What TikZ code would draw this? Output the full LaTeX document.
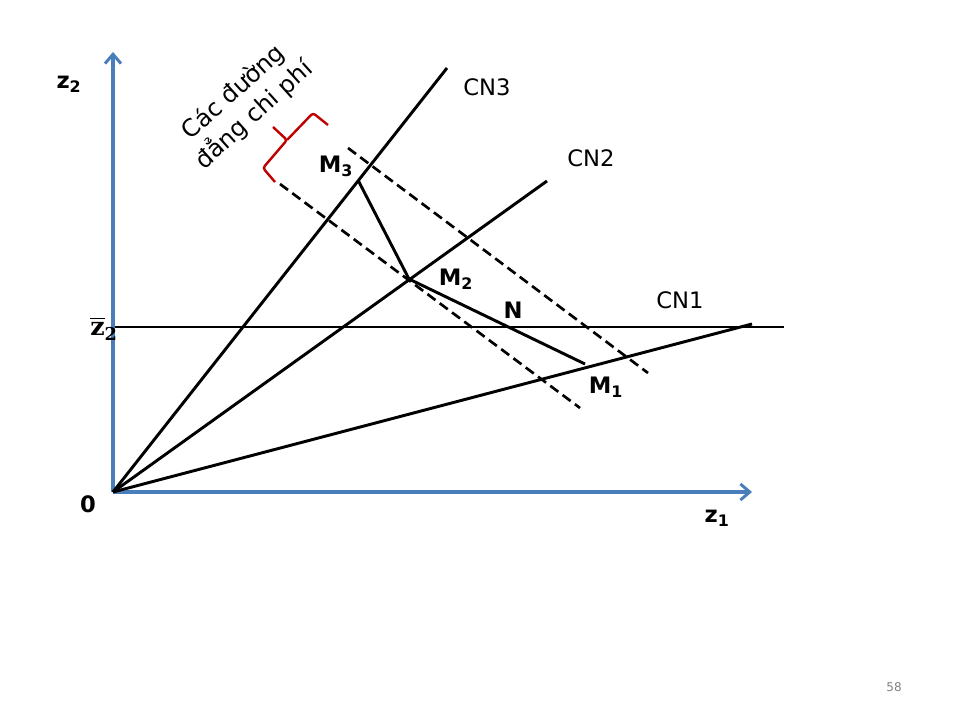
\documentclass[tikz,border=0pt]{standalone}
\usepackage[no-math]{fontspec}
\setmainfont{DejaVu Sans}
\newfontfamily\zfont{DejaVu Serif}
\usepackage{xcolor}
\usepackage{amsmath}
\usepackage{tikz}
\usetikzlibrary{arrows.meta, positioning}
\definecolor{axisblue}{HTML}{4A7EBB}
\definecolor{bracered}{HTML}{C00000}

\begin{document}
\begin{tikzpicture}[x=0.75pt, y=-0.75pt,
            axis/.style={draw=axisblue, line width=2.3pt, -{Straight Barb[length=7pt, width=12pt, line width=2.2pt]}},
            ray/.style={draw, line width=2.2pt},
            isocost/.style={draw, line width=2pt, dash pattern=on 7.5pt off 4pt},
            bracket/.style={draw=bracered, line width=1.8pt, rounded corners=2pt},
            lbl/.style={font=\fontsize{17}{20}\selectfont\bfseries, inner sep=0pt},
            cnlbl/.style={font=\fontsize{17}{20}\selectfont, inner sep=0pt},
        ]
        \useasboundingbox (0,0) rectangle (960,720);
        \coordinate (o) at (113,492);
        \coordinate (ytop) at (113,52);
        \coordinate (xtop) at (752,492);
        \coordinate (c3) at (447,68);
        \coordinate (c2) at (547,181);
        \coordinate (c1) at (752,324);
        \coordinate (h0) at (115,327);
        \coordinate (h1) at (784,327);
        \coordinate (m3) at (358,180);
        \coordinate (m2) at (409,279);
        \coordinate (m1) at (585,364);
        \coordinate (d1a) at (348,148);
        \coordinate (d1b) at (648,373);
        \coordinate (d2a) at (280,184);
        \coordinate (d2b) at (580,408);
        \draw[axis] (o) -- (ytop);
        \draw[axis] (o) -- (xtop);
        \draw[ray] (o) -- (c3);
        \draw[ray] (o) -- (c2);
        \draw[ray] (o) -- (c1);
        \draw[ray] (h0) -- (h1);
        \draw[ray, line join=round] (m3) -- (m2) -- (m1);
        \draw[isocost] (d1a) -- (d1b);
        \draw[isocost] (d2a) -- (d2b);
        \draw[bracket] (275,182) -- (263,168) -- (287,140) -- (273,127);
        \draw[bracket] (287,140) -- (313,113) -- (328,125);
        \node (lisocost) at (244,104) [rotate=42, align=center, inner sep=0pt,
            font=\fontsize{18}{23}\selectfont] {Các đường\\đẳng chi phí};
        \node (lz2) at (69,84) [lbl] {z\textsubscript{2}};
        \node (lzbar) at (104,329) [inner sep=0pt, font=\fontsize{19}{22}\selectfont\zfont\bfseries] {$\overline{\hbox{z}}$\textsubscript{2}};
        \node (lo) at (88,504) [lbl] {0};
        \node (lz1) at (717,518) [lbl] {z\textsubscript{1}};
        \node (lcn3) at (487,87) [cnlbl] {CN3};
        \node (lcn2) at (591,158) [cnlbl] {CN2};
        \node (lcn1) at (680,300) [cnlbl] {CN1};
        \node (lm3) at (336,166) [lbl] {M\textsubscript{3}};
        \node (lm2) at (456,279) [lbl] {M\textsubscript{2}};
        \node (ln) at (513,310) [lbl] {N};
        \node (lm1) at (606,387) [lbl] {M\textsubscript{1}};
        \node (lpage) at (894,687) [inner sep=0pt, text=gray, font=\fontsize{9}{10}\selectfont] {58};
        \end{tikzpicture}
\end{document}
